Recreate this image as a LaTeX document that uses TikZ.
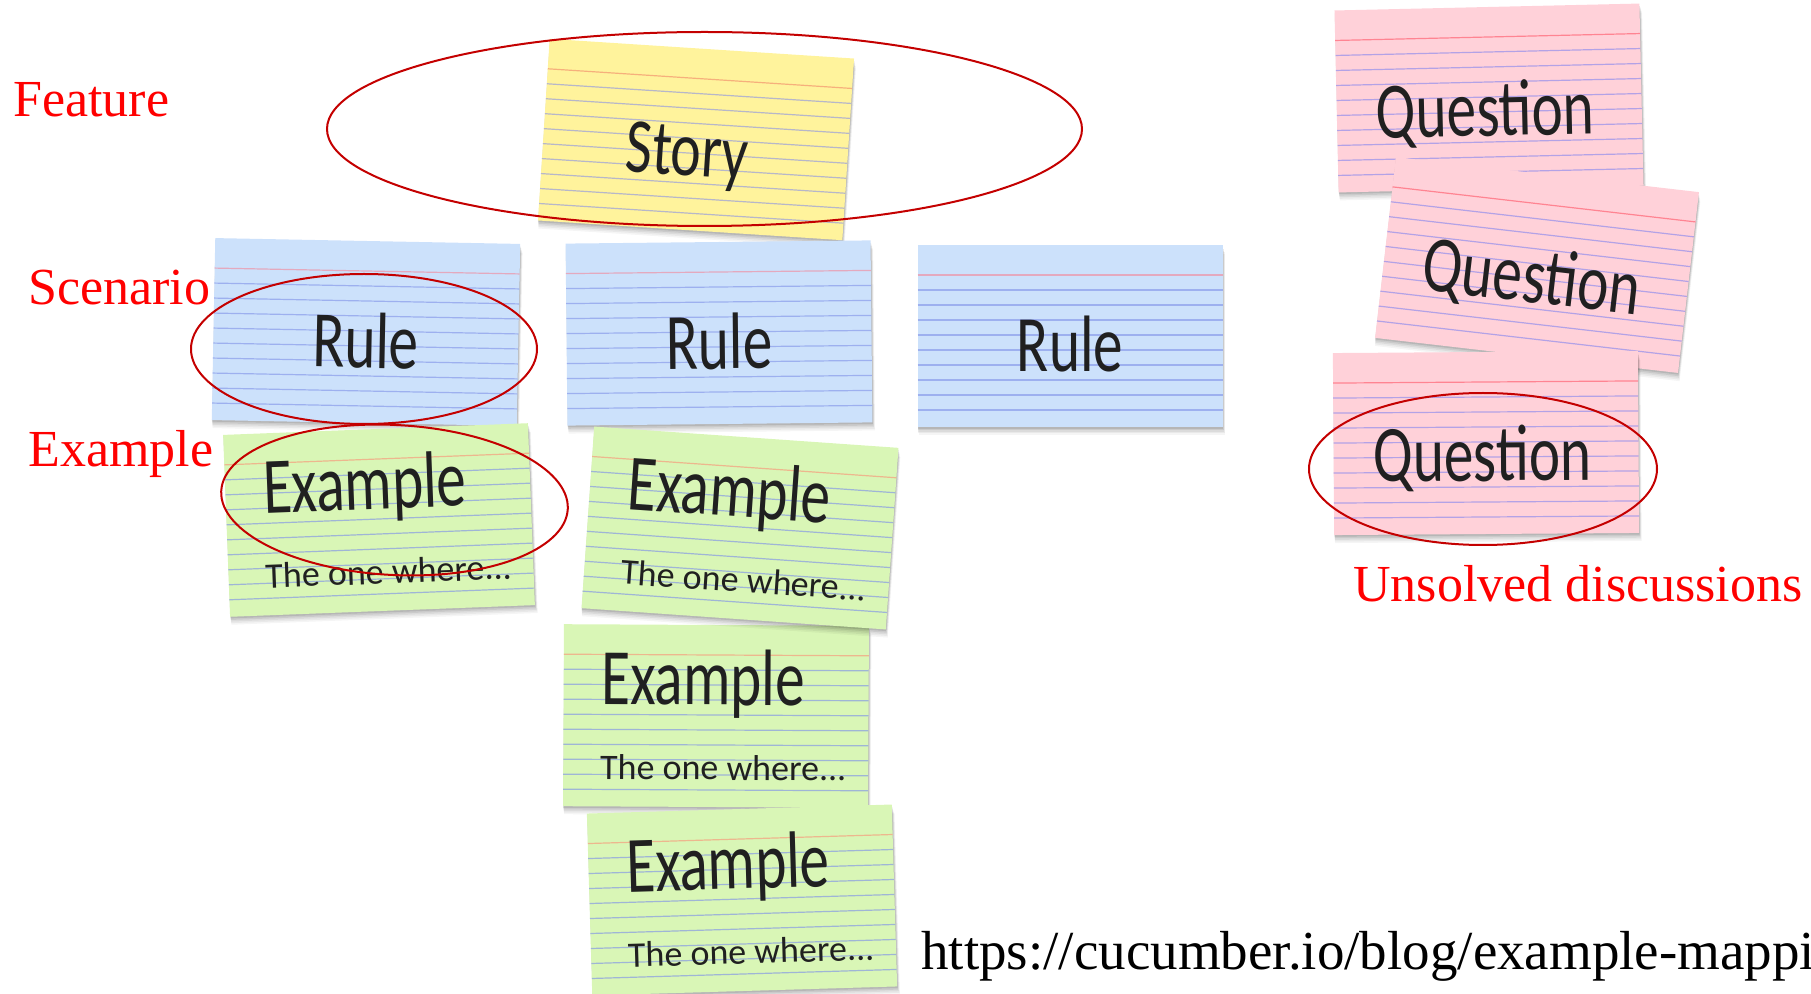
\documentclass[tikz,border=0pt]{standalone}
\usepackage{fontspec}
\setmainfont{Liberation Serif}
\newfontfamily\handfont{Carlito}[FakeStretch=0.74]
\newfontfamily\handwide{Carlito}
\usetikzlibrary{shapes.geometric}

% paper and ink colours
\definecolor{paperY}{HTML}{FFF39C}
\definecolor{topY}{HTML}{F6B07C}
\definecolor{ruleY}{HTML}{B7B7C9}
\definecolor{paperB}{HTML}{CCE1FB}
\definecolor{topB}{HTML}{E4A9BE}
\definecolor{ruleB}{HTML}{9DB0EF}
\definecolor{paperG}{HTML}{D9F6B6}
\definecolor{topG}{HTML}{EDB78E}
\definecolor{ruleG}{HTML}{9FB5D6}
\definecolor{paperP}{HTML}{FFD1D9}
\definecolor{topP}{HTML}{FF8492}
\definecolor{ruleP}{HTML}{B3A2E6}
\definecolor{ink}{HTML}{202020}
\definecolor{labelred}{HTML}{FF0000}
\definecolor{ringred}{HTML}{C40000}

% an index card: name, centre x, centre y, angle, paper, top rule, line colour, writing
\newcommand{\indexcard}[8]{%
  \begin{scope}[shift={(#2,#3)}, rotate=#4]
    \foreach \d/\o in {1/0.10,2/0.08,3/0.06,4/0.05,5/0.04}
      \fill[black, opacity=\o] (-152.5+0.2*\d,-90+1.6*\d) rectangle (152.5+0.5*\d,91+1.6*\d);
    \node[card, fill=#5] (#1) at (0,0) {};
    \draw[cardline, draw=#6] (-152.5,-61) -- (152.5,-61);
    \foreach \v in {-46,-31,...,74}
      \draw[cardline, draw=#7] (-152.5,\v) -- (152.5,\v);
    #8
  \end{scope}}

\begin{document}
\begin{tikzpicture}[x=0.5pt, y=-0.5pt,
  card/.style={minimum width=152.5pt, minimum height=91pt, inner sep=0pt, outer sep=0pt, transform shape},
  cardline/.style={line width=0.6pt},
  hand/.style={font=\handfont\fontsize{40}{40}\selectfont, text=ink, inner sep=0pt, transform shape},
  handsmall/.style={font=\handwide\fontsize{18}{18}\selectfont, text=ink, inner sep=0pt, transform shape},
  lbl/.style={font=\fontsize{26}{26}\selectfont, text=labelred, inner sep=0pt},
  ring/.style={ellipse, draw=ringred, line width=1pt, inner sep=0pt}]

\useasboundingbox (0,0) rectangle (1811,994);
\clip (0,0) rectangle (1811,994);

% story
\indexcard{story}{696}{139.5}{-3.7}{paperY}{topY}{ruleY}{%
  \node[hand, anchor=base, font=\handfont\fontsize{39}{39}\selectfont] (story-t) at (-8,37) {Story};}

% rules
\indexcard{rule1}{366}{332}{-1.1}{paperB}{topB}{ruleB}{%
  \node[hand, anchor=base] (rule1-t) at (0,36) {Rule};}
\indexcard{rule2}{719}{333}{0.6}{paperB}{topB}{ruleB}{%
  \node[hand, anchor=base] (rule2-t) at (0,36) {Rule};}
\indexcard{rule3}{1070}{336}{0}{paperB}{topB}{ruleB}{%
  \node[hand, anchor=base] (rule3-t) at (0,36) {Rule};}

% examples
\indexcard{ex1}{379}{520}{2.2}{paperG}{topG}{ruleG}{%
  \node[hand, anchor=base west] (ex1-t) at (-115,-11) {Example};
  \node[handsmall, anchor=base west] (ex1-s) at (-116,64) {The one where...};}
\indexcard{ex3}{716}{716}{-0.3}{paperG}{topG}{ruleG}{%
  \node[hand, anchor=base west] (ex3-t) at (-115,-11) {Example};
  \node[handsmall, anchor=base west] (ex3-s) at (-116,64) {The one where...};}
\indexcard{ex2}{740}{528}{-4}{paperG}{topG}{ruleG}{%
  \node[hand, anchor=base west] (ex2-t) at (-115,-11) {Example};
  \node[handsmall, anchor=base west] (ex2-s) at (-116,64) {The one where...};}
\indexcard{ex4}{742}{900}{1.7}{paperG}{topG}{ruleG}{%
  \node[hand, anchor=base west] (ex4-t) at (-115,-11) {Example};
  \node[handsmall, anchor=base west] (ex4-s) at (-116,64) {The one where...};}

% questions
\indexcard{q1}{1489}{98}{1.3}{paperP}{topP}{ruleP}{%
  \node[hand, anchor=base] (q1-t) at (-4,38) {Question};}
\indexcard{q2}{1537}{265}{-6.6}{paperP}{topP}{ruleP}{%
  \node[hand, anchor=base] (q2-t) at (-4,38) {Question};}
\indexcard{q3}{1486}{443}{0.4}{paperP}{topP}{ruleP}{%
  \node[hand, anchor=base] (q3-t) at (-4,38) {Question};}

% highlight rings
\node[ring, minimum width=377.5pt, minimum height=97pt] (ring-story) at (704.5,129) {};
\node[ring, minimum width=173pt, minimum height=75pt] (ring-rule) at (364,349) {};
\node[ring, minimum width=173.5pt, minimum height=75pt, rotate=-3] (ring-ex) at (394.5,500) {};
\node[ring, minimum width=174pt, minimum height=76pt] (ring-q) at (1483,469) {};

% labels
\node[lbl, anchor=base west] (lab-feature) at (13,117) {Feature};
\node[lbl, anchor=base west] (lab-scenario) at (28,305) {Scenario};
\node[lbl, anchor=base west] (lab-example) at (28,467) {Example};
\node[lbl, anchor=base west] (lab-unsolved) at (1353,602) {Unsolved discussions};
\node[lbl, anchor=base west, text=black, font=\fontsize{27.5}{27.5}\selectfont] (url) at (921,969) {https://cucumber.io/blog/example-mappi};
\end{tikzpicture}
\end{document}
